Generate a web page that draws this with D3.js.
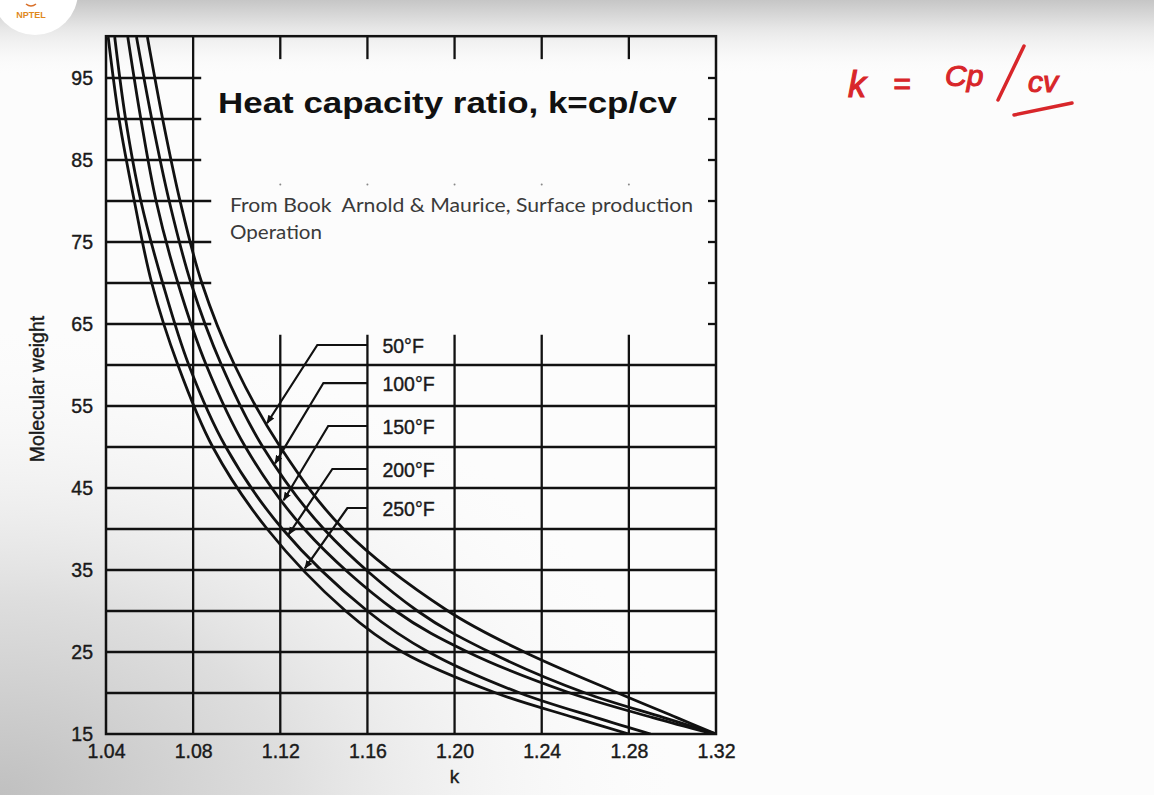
<!DOCTYPE html>
<html>
<head>
<meta charset="utf-8">
<script src="https://cdn.jsdelivr.net/npm/d3@7"></script>
<style>
  body { margin: 0; background: #fff; overflow: hidden; }
  svg text { font-family: "Liberation Sans", Arial, sans-serif; }
</style>
</head>
<body>
<div id="chart"></div>
<script>
var mwPoints = [15, 17, 20, 25, 30, 40, 50, 60, 70, 80, 90, 100];
var k50F  = [1.320, 1.302, 1.275, 1.232, 1.197, 1.149, 1.120, 1.099, 1.084, 1.074, 1.066, 1.059];
var k100F = [1.320, 1.296, 1.260, 1.216, 1.183, 1.140, 1.112, 1.093, 1.079, 1.069, 1.061, 1.054];
var k150F = [1.319, 1.291, 1.253, 1.206, 1.173, 1.131, 1.104, 1.086, 1.073, 1.063, 1.056, 1.050];
var k200F = [1.290, 1.265, 1.230, 1.188, 1.160, 1.121, 1.095, 1.078, 1.066, 1.056, 1.049, 1.044];
var k250F = [1.280, 1.255, 1.219, 1.176, 1.150, 1.114, 1.089, 1.073, 1.061, 1.053, 1.046, 1.041];

var seriesNames = ["50°F", "100°F", "150°F", "200°F", "250°F"];
var labelMW = [62.44, 57.8, 52.56, 47.32, 42.56];     // height of each leader label
var kneeK   = [1.137, 1.1398, 1.142, 1.1439, 1.1508];  // where the leader bends
var arrowMW = [52.9, 48.0, 43.5, 39.3, 35.2];         // where the leader meets its curve

var xTicks = [1.04, 1.08, 1.12, 1.16, 1.20, 1.24, 1.28, 1.32];
var yTicks = [15, 25, 35, 45, 55, 65, 75, 85, 95];
var yGridFull  = [20, 25, 30, 35, 40, 45, 50, 55, 60];
var yGridShort = [65, 70, 75, 80, 85, 90, 95];
var xGridLower = [1.12, 1.16, 1.20, 1.24, 1.28];

var W = 1154, H = 795;
var svg = d3.select("#chart").append("svg")
    .attr("width", W).attr("height", H);

var defs = svg.append("defs");
var topGrad = defs.append("linearGradient").attr("id", "topGrad")
    .attr("x1", 0).attr("y1", 0).attr("x2", 0).attr("y2", 1);
topGrad.append("stop").attr("offset", "0").attr("stop-color", "#c6c6c6");
topGrad.append("stop").attr("offset", "0.035").attr("stop-color", "#e6e6e6");
topGrad.append("stop").attr("offset", "0.1").attr("stop-color", "#ffffff").attr("stop-opacity", 0);
var blGrad = defs.append("radialGradient").attr("id", "blGrad")
    .attr("cx", 0.0).attr("cy", 1.0).attr("r", 0.62);
blGrad.append("stop").attr("offset", "0").attr("stop-color", "#c0c0c0");
blGrad.append("stop").attr("offset", "0.4").attr("stop-color", "#dedede");
blGrad.append("stop").attr("offset", "1").attr("stop-color", "#ffffff").attr("stop-opacity", 0);
defs.append("clipPath").attr("id", "plotClip").append("rect")
    .attr("x", 106).attr("y", 36).attr("width", 610).attr("height", 698);
defs.append("marker").attr("id", "arrow")
    .attr("viewBox", "0 0 10 10").attr("refX", 9).attr("refY", 5)
    .attr("markerWidth", 4).attr("markerHeight", 4).attr("orient", "auto")
  .append("path").attr("d", "M0,1L10,5L0,9z").attr("fill", "#111");

// video frame background
svg.append("rect").attr("width", W).attr("height", H).attr("fill", "#fcfcfc");
svg.append("rect").attr("width", W).attr("height", H).attr("fill", "url(#blGrad)");
svg.append("rect").attr("width", W).attr("height", H).attr("fill", "url(#topGrad)");

var x = d3.scaleLinear().domain([1.04, 1.32]).range([106, 716]);
var y = d3.scaleLinear().domain([15, 100]).range([734, 37]);

var ink = "#111";
var g = svg.append("g");

// horizontal grid
g.selectAll(".hfull").data(yGridFull).enter().append("line")
    .attr("x1", x(1.04)).attr("x2", x(1.32))
    .attr("y1", function(d) { return y(d); }).attr("y2", function(d) { return y(d); })
    .attr("stroke", ink).attr("stroke-width", 2.3);
g.selectAll(".hshort").data(yGridShort).enter().append("line")
    .attr("x1", x(1.04))
    .attr("x2", function(d) { return d >= 85 ? x(1.0837) : x(1.0883); })
    .attr("y1", function(d) { return y(d); }).attr("y2", function(d) { return y(d); })
    .attr("stroke", ink).attr("stroke-width", 2.3);
// right side ticks
g.selectAll(".rtick").data(yGridShort).enter().append("line")
    .attr("x1", x(1.32) - 8).attr("x2", x(1.32))
    .attr("y1", function(d) { return y(d); }).attr("y2", function(d) { return y(d); })
    .attr("stroke", ink).attr("stroke-width", 2.3);

// vertical grid
g.append("line").attr("x1", x(1.08)).attr("x2", x(1.08))
    .attr("y1", y(100.1)).attr("y2", y(15))
    .attr("stroke", ink).attr("stroke-width", 2.3);
g.selectAll(".vlow").data(xGridLower).enter().append("line")
    .attr("x1", function(d) { return x(d); }).attr("x2", function(d) { return x(d); })
    .attr("y1", y(63.7)).attr("y2", y(15))
    .attr("stroke", ink).attr("stroke-width", 2.3);
g.selectAll(".vtop").data(xGridLower).enter().append("line")
    .attr("x1", function(d) { return x(d); }).attr("x2", function(d) { return x(d); })
    .attr("y1", y(100.1)).attr("y2", y(97.3))
    .attr("stroke", ink).attr("stroke-width", 2.3);
g.selectAll(".dot").data(xGridLower).enter().append("circle")
    .attr("cx", function(d) { return x(d); }).attr("cy", y(82))
    .attr("r", 1).attr("fill", "#888");

// frame
g.append("rect").attr("x", x(1.04)).attr("y", y(100.1))
    .attr("width", x(1.32) - x(1.04)).attr("height", y(15) - y(100.1))
    .attr("fill", "none").attr("stroke", ink).attr("stroke-width", 2.5);

// curves
var allSeries = [k50F, k100F, k150F, k200F, k250F];
var line = d3.line()
    .x(function(d) { return x(d[0]); })
    .y(function(d) { return y(d[1]); })
    .curve(d3.curveCatmullRom.alpha(0.5));
g.append("g").attr("clip-path", "url(#plotClip)")
  .selectAll("path").data(allSeries).enter().append("path")
    .attr("d", function(s) { return line(s.map(function(k, i) { return [k, mwPoints[i]]; })); })
    .attr("fill", "none").attr("stroke", ink).attr("stroke-width", 2.8)
    .attr("stroke-linejoin", "round");

// leaders and labels
seriesNames.forEach(function(name, i) {
  var kOnCurve = d3.scaleLinear().domain(mwPoints).range(allSeries[i])(arrowMW[i]);
  var pts = [[x(1.16), y(labelMW[i])], [x(kneeK[i]), y(labelMW[i])], [x(kOnCurve), y(arrowMW[i])]];
  g.append("path").attr("d", d3.line()(pts))
    .attr("fill", "none").attr("stroke", ink).attr("stroke-width", 2.2)
    .attr("marker-end", "url(#arrow)");
  g.append("text").attr("x", x(1.16) + 15).attr("y", y(labelMW[i]) + 3)
    .attr("dominant-baseline", "middle")
    .attr("font-size", 19.5).attr("fill", "#1a1a1a")
    .attr("stroke", "#1a1a1a").attr("stroke-width", 0.4)
    .text(name);
});

// axes
var xAxis = d3.axisBottom(x).tickValues(xTicks).tickSize(0).tickPadding(10)
    .tickFormat(d3.format(".2f"));
var gx = svg.append("g").attr("transform", "translate(0," + y(15) + ")").call(xAxis);
gx.select(".domain").remove();
gx.selectAll("text").attr("font-size", 19.5).attr("fill", "#1a1a1a")
    .attr("stroke", "#1a1a1a").attr("stroke-width", 0.4)
    .style("font-family", "'Liberation Sans', Arial, sans-serif");

var yAxis = d3.axisLeft(y).tickValues(yTicks).tickSize(0).tickPadding(13);
var gy = svg.append("g").attr("transform", "translate(" + x(1.04) + ",0)").call(yAxis);
gy.select(".domain").remove();
gy.selectAll("text").attr("font-size", 19.5).attr("fill", "#1a1a1a")
    .attr("stroke", "#1a1a1a").attr("stroke-width", 0.4)
    .style("font-family", "'Liberation Sans', Arial, sans-serif");

svg.append("text").attr("x", x(1.20)).attr("y", 783)
    .attr("text-anchor", "middle").attr("font-size", 19).attr("fill", "#1a1a1a")
    .attr("stroke", "#1a1a1a").attr("stroke-width", 0.4).text("k");
svg.append("text").attr("transform", "translate(44,389) rotate(-90)")
    .attr("text-anchor", "middle").attr("font-size", 19.5).attr("fill", "#1a1a1a")
    .attr("stroke", "#1a1a1a").attr("stroke-width", 0.4)
    .text("Molecular weight");

// title and source note
svg.append("text").attr("x", 218).attr("y", 113)
    .attr("font-size", 30).attr("font-weight", "bold").attr("fill", "#111")
    .attr("textLength", 459).attr("lengthAdjust", "spacingAndGlyphs")
    .text("Heat capacity ratio, k=cp/cv");
svg.append("text").attr("x", 230).attr("y", 212)
    .style("font-family", "Lato, 'Open Sans', sans-serif")
    .attr("font-size", 19.5).attr("fill", "#3a3a3a").attr("xml:space", "preserve")
    .attr("textLength", 463).attr("lengthAdjust", "spacingAndGlyphs")
    .text("From Book  Arnold & Maurice, Surface production");
svg.append("text").attr("x", 230).attr("y", 239)
    .style("font-family", "Lato, 'Open Sans', sans-serif")
    .attr("font-size", 19.5).attr("fill", "#3a3a3a")
    .attr("textLength", 92).attr("lengthAdjust", "spacingAndGlyphs")
    .text("Operation");

// NPTEL badge
svg.append("circle").attr("cx", 35).attr("cy", -8).attr("r", 43).attr("fill", "#ffffff");
svg.append("text").attr("x", 31).attr("y", 18).attr("text-anchor", "middle")
    .attr("font-size", 9).attr("font-weight", "bold").attr("fill", "#e0891c").text("NPTEL");
svg.append("path").attr("d", "M26,4 Q31,8 36,4").attr("fill", "none")
    .attr("stroke", "#d9702a").attr("stroke-width", 1.5);

// red handwriting
var red = "#d8262a";
var hw = svg.append("g").attr("fill", red).attr("stroke", red).attr("stroke-width", 1.1)
    .style("font-family", "'DejaVu Sans', sans-serif").style("font-style", "italic");
hw.append("text").attr("x", 848).attr("y", 97).attr("font-size", 36).text("k");
hw.append("text").attr("x", 893).attr("y", 94).attr("font-size", 30).text("=");
hw.append("text").attr("x", 945).attr("y", 86).attr("font-size", 30).text("Cp");
hw.append("text").attr("x", 1028).attr("y", 92).attr("font-size", 30).text("cv");
svg.append("path").attr("d", "M1024,46 L998,100").attr("stroke", red)
    .attr("stroke-width", 3.5).attr("stroke-linecap", "round");
svg.append("path").attr("d", "M1014,115 L1072,103").attr("stroke", red)
    .attr("stroke-width", 3.5).attr("stroke-linecap", "round");
</script>
</body>
</html>
